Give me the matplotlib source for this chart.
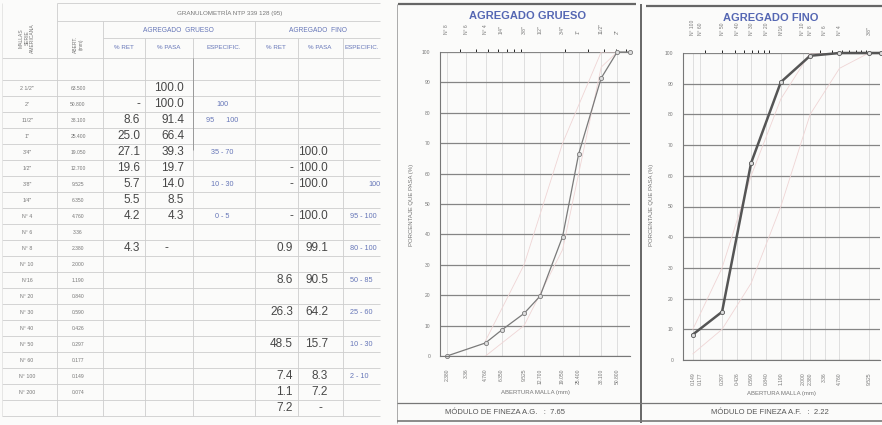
import matplotlib.pyplot as plt
from matplotlib.patches import Rectangle

plt.rcParams['font.family'] = ['Liberation Sans', 'DejaVu Sans']

# --- data read from the sheet ---
mallas = ['2 1/2"', '2"', '11/2"', '1"', '3/4"', '1/2"', '3/8"', '1/4"', 'N° 4', 'N° 6',
          'N° 8', 'N° 10', 'N°16', 'N° 20', 'N° 30', 'N° 40', 'N° 50', 'N° 60', 'N° 100', 'N° 200']
abertura = [63.5, 50.8, 38.1, 25.4, 19.05, 12.7, 9.525, 6.35, 4.76, 3.36,
            2.38, 2.0, 1.19, 0.84, 0.59, 0.426, 0.297, 0.177, 0.149, 0.074]
abertura_txt = ['63.500', '50.800', '38.100', '25.400', '19.050', '12.700', '9.525', '6.350',
                '4.760', '3.36', '2.380', '2.000', '1.190', '0.840', '0.590', '0.426',
                '0.297', '0.177', '0.149', '0.074']
# 0 is printed as "-" on the sheet
grueso_ret = [None, 0, 8.6, 25.0, 27.1, 19.6, 5.7, 5.5, 4.2, None,
              4.3, None, None, None, None, None, None, None, None, None]
grueso_pasa = [100.0, 100.0, 91.4, 66.4, 39.3, 19.7, 14.0, 8.5, 4.3, None,
               0, None, None, None, None, None, None, None, None, None]
grueso_espec = {1: '100', 2: '95      100', 4: '35 - 70', 6: '10 - 30', 8: '0 - 5'}
fino_ret = [None, None, None, None, None, 0, 0, None, 0, None,
            0.9, None, 8.6, None, 26.3, None, 48.5, None, 7.4, 1.1]
fino_pasa = [None, None, None, None, 100.0, 100.0, 100.0, None, 100.0, None,
             99.1, None, 90.5, None, 64.2, None, 15.7, None, 8.3, 7.2]
fino_espec = {6: '100', 8: '95 - 100', 10: '80 - 100', 12: '50 - 85', 14: '25 - 60',
              16: '10 - 30', 18: '2 - 10'}
fondo_ret, fondo_pasa = 7.2, 0

# specification limits (ASTM C33) for the envelopes
g_lim_x = [4.76, 9.525, 19.05, 38.1, 50.8]
g_lim_low = [0, 10, 35, 95, 100]
g_lim_high = [5, 30, 70, 100, 100]
f_lim_x = [0.149, 0.297, 0.59, 1.19, 2.38, 4.76, 9.525]
f_lim_low = [2, 10, 25, 50, 80, 95, 100]
f_lim_high = [10, 30, 60, 85, 100, 100, 100]

g_ticks = [10, 9, 8, 7, 6, 5, 4, 3, 2, 1]
f_ticks = [18, 17, 16, 15, 14, 13, 12, 11, 10, 9, 8, 6]

modulo_g = '7.65'
modulo_f = '2.22'

W, H = 882, 425
BG = '#fbfbfa'
BLUE = '#6676b8'
VAL = '#474747'

fig = plt.figure(figsize=(W / 100, H / 100), dpi=100, facecolor=BG)
bg = fig.add_axes([0, 0, 1, 1])
bg.set_xlim(0, W)
bg.set_ylim(H, 0)
bg.axis('off')


def line(x, y, c='#cdcdcd', lw=0.6, z=2):
    bg.plot(x, y, color=c, lw=lw, zorder=z, solid_capstyle='butt')


def fmt(v):
    if v is None:
        return ''
    return '-' if v == 0 else '%.1f' % v


# --- table ---
row_top = 80
row_h = 16
n_rows = len(mallas) + 1
table_bottom = row_top + n_rows * row_h

line([57, 380], [3, 3])
line([57, 380], [21, 21])
line([103, 380], [38, 38])
line([2, 380], [58, 58])
for i in range(n_rows + 1):
    y = row_top + i * row_h
    line([2, 380], [y, y])
line([2, 2], [3, table_bottom], c='#e2e2e2')
line([57, 57], [3, table_bottom])
line([103, 103], [21, table_bottom])
line([255, 255], [21, table_bottom])
for x in [145, 193, 298, 343]:
    line([x, x], [38, table_bottom])
line([193, 193], [58, 150], c='#9a9a9a', lw=0.7)

bg.text(230, 13, 'GRANULOMETRÍA NTP 339 128 (95)', fontsize=4.5, color='#777',
        ha='center', va='center')
bg.text(178, 30, 'AGREGADO  GRUESO', fontsize=4.8, color=BLUE, ha='center', va='center')
bg.text(318, 30, 'AGREGADO  FINO', fontsize=4.8, color=BLUE, ha='center', va='center')
for x, s in [(124, '% RET'), (169, '% PASA'), (224, 'ESPECIFIC.'),
             (276, '% RET'), (320, '% PASA'), (362, 'ESPECIFIC.')]:
    bg.text(x, 47, s, fontsize=4.5, color=BLUE, ha='center', va='center')
bg.text(27, 38, 'MALLAS\nSERIE\nAMERICANA', fontsize=3.6, color='#777', rotation=90,
        ha='center', va='center', linespacing=1.1)
bg.text(78, 44, 'ABERT.\n(mm)', fontsize=3.6, color='#777', rotation=90,
        ha='center', va='center')

for i, m in enumerate(mallas):
    y = row_top + i * row_h + row_h / 2
    bg.text(27, y, m, fontsize=3.8, color='#777', ha='center', va='center')
    bg.text(78, y, abertura_txt[i], fontsize=3.6, color='#777', ha='center', va='center')
    bg.text(140, y, fmt(grueso_ret[i]), fontsize=8.5, color=VAL, ha='right', va='center')
    bg.text(184 if grueso_pasa[i] else 168, y, fmt(grueso_pasa[i]), fontsize=8.5, color=VAL,
            ha='right', va='center')
    bg.text(293, y, fmt(fino_ret[i]), fontsize=8.5, color=VAL, ha='right', va='center')
    bg.text(328, y, fmt(fino_pasa[i]), fontsize=8.5, color=VAL, ha='right', va='center')
    if i in grueso_espec:
        bg.text(222, y, grueso_espec[i], fontsize=5.2, color=BLUE, ha='center', va='center')
    if i in fino_espec:
        xs = 368 if fino_espec[i] == '100' else 350
        bg.text(xs, y, fino_espec[i], fontsize=5.2, color=BLUE, ha='left', va='center')
y = table_bottom - row_h / 2
bg.text(293, y, fmt(fondo_ret), fontsize=8.5, color=VAL, ha='right', va='center')
bg.text(322, y, fmt(fondo_pasa), fontsize=8.5, color=VAL, ha='right', va='center')

# chart panel covers the cut edge of the table
bg.add_patch(Rectangle((381, 0), W - 381, H, facecolor=BG, edgecolor='none', zorder=5))

# panel frames
line([398, 636], [4, 4], c='#666', lw=1.6, z=6)
line([646, 882], [6, 6], c='#666', lw=1.6, z=6)
line([641, 641], [4, 423], c='#666', lw=1.4, z=6)
line([397, 397], [4, 423], c='#aaa', lw=0.7, z=6)
line([397, 882], [403, 403], c='#777', lw=0.9, z=6)
line([397, 882], [421, 421], c='#777', lw=1.2, z=6)
bg.text(528, 16, 'AGREGADO GRUESO', fontsize=8, color='#5567b3', fontweight='bold',
        ha='center', va='center', zorder=7)
bg.text(771, 18, 'AGREGADO FINO', fontsize=8, color='#5567b3', fontweight='bold',
        ha='center', va='center', zorder=7)
bg.text(505, 412, 'MÓDULO DE FINEZA A.G.   :  ' + modulo_g, fontsize=5.5, color='#555',
        ha='center', va='center', zorder=7)
bg.text(770, 412, 'MÓDULO DE FINEZA A.F.   :  ' + modulo_f, fontsize=5.5, color='#555',
        ha='center', va='center', zorder=7)


def chart(px, xlim, ticks, pasa, lim_x, low, high, lw, color, ylab_x):
    x0, y0, x1, y1 = px
    ax = fig.add_axes([x0 / W, 1 - y1 / H, (x1 - x0) / W, (y1 - y0) / H])
    ax.set_facecolor('none')
    ax.set_xscale('log')
    ax.set_xlim(*xlim)
    ax.set_ylim(0, 100)
    ax.set_yticks(range(0, 101, 10))
    ax.minorticks_off()
    ax.set_xticks([abertura[i] for i in ticks], labels=[abertura_txt[i] for i in ticks])
    ax.tick_params(axis='x', length=0, pad=9, labelsize=3.6, labelrotation=90, colors='#777')
    ax.tick_params(axis='y', length=0, pad=7, labelsize=3.6, colors='#777')
    ax.yaxis.grid(True, color='#858585', lw=0.9)
    ax.xaxis.grid(True, color='#dadada', lw=0.6)
    for s in ['top', 'right']:
        ax.spines[s].set_visible(False)
    for s in ['left', 'bottom']:
        ax.spines[s].set_color('#777')
        ax.spines[s].set_linewidth(0.8)
    sec = ax.secondary_xaxis('top')
    sec.set_xticks([abertura[i] for i in ticks], labels=[mallas[i] for i in ticks])
    sec.tick_params(length=0, pad=13, labelsize=3.6, labelrotation=90, colors='#777')
    sec.spines['top'].set_visible(False)

    # faint specification envelope
    ax.plot(lim_x, low, color='#efd5d5', lw=0.6)
    ax.plot(lim_x, high, color='#efd5d5', lw=0.6)
    keep = [i for i in range(len(pasa)) if pasa[i] is not None and abertura[i] >= xlim[0]]
    xs = [abertura[i] for i in keep]
    ys = [pasa[i] for i in keep]
    ax.plot(xs, ys, color=color, lw=lw, marker='o', ms=3, mfc='#ddd', mec=color, mew=0.6,
            clip_on=False)
    ax.set_xlabel('ABERTURA MALLA (mm)', fontsize=4.3, color='#777', labelpad=4)
    fig.text(ylab_x / W, 1 - 205 / H, 'PORCENTAJE QUE PASA (%)', fontsize=4.3, color='#777',
             rotation=90, ha='center', va='center')
    return ax


chart((440, 52, 630, 356), (2.1, 64), g_ticks, grueso_pasa, g_lim_x, g_lim_low, g_lim_high,
      0.9, '#7a7a7a', 412)
chart((683, 53, 880, 360), (0.118, 12.4), f_ticks, fino_pasa, f_lim_x, f_lim_low, f_lim_high,
      1.8, '#555', 652)

fig.savefig('out.png', dpi=100, facecolor=BG)
